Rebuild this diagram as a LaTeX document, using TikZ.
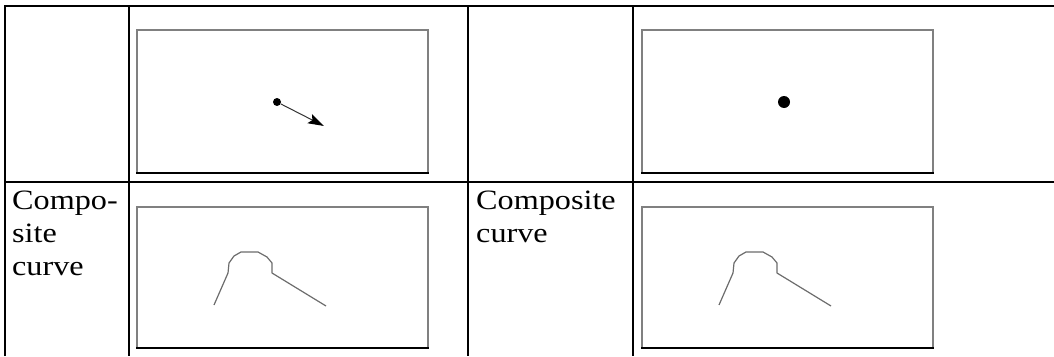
\documentclass[tikz,border=0pt]{standalone}
\usepackage{fontspec}
\setmainfont{Liberation Serif}
\usetikzlibrary{arrows.meta}

\tikzset{
  rule/.style={line width=2pt, black},
  frame/.style={draw=gray, line width=1.6pt},
  framebase/.style={draw=black, line width=1.8pt},
  curveline/.style={draw=gray!85!black, line width=1.2pt, line join=round},
  lbl/.style={anchor=base west, inner sep=0pt, font=\fontsize{28}{33}\selectfont},
  dot/.style={circle, fill=black, inner sep=0pt}
}
\newcommand{\wide}[1]{\scalebox{1.15}[1]{#1}}

\begin{document}
\begin{tikzpicture}[x=1pt, y=-1pt]
\useasboundingbox (0,0) rectangle (1054,356);
% lignes du tableau
\draw[rule] (5,356) -- (5,6) -- (1054,6);
\draw[rule] (5,182) -- (1054,182);
\foreach \x in {129,468,633}
  \draw[rule] (\x,6) -- (\x,356);

% cadres gris (bas en noir)
\foreach \l/\r in {137/428, 642/933} {
  \draw[frame] (\l,173) -- (\l,30) -- (\r,30) -- (\r,173);
  \draw[framebase] (\l-1,173) -- (\r+1,173);
  \draw[frame] (\l,348) -- (\l,207) -- (\r,207) -- (\r,348);
  \draw[framebase] (\l-1,348) -- (\r+1,348);
}

% point et vecteur
\node[dot, minimum size=8pt] (start) at (277,102) {};
\coordinate (tip) at (324,126);
\draw[gray!40!black, line width=1pt, -{Stealth[length=16pt,width=10pt,inset=3pt,color=black]}] (start) -- (tip);
\node[dot, minimum size=12pt] (point) at (784,102) {};

% courbes composites
\foreach \l in {137, 642} {
  \begin{scope}[shift={(\l,206)}]
    \draw[curveline] (77,99) -- (91,67) -- (92,57) -- (97,50) -- (104,46) -- (121,46)
      -- (130,51) -- (135,57) -- (135,67) -- (189,100);
  \end{scope}
}

% textes
\node[lbl] (c1a) at (12,209) {\wide{Compo-}};
\node[lbl] (c1b) at (12,242) {\wide{site}};
\node[lbl] (c1c) at (12,275) {\wide{curve}};
\node[lbl] (c2a) at (476,209) {\wide{Composite}};
\node[lbl] (c2b) at (476,242) {\wide{curve}};
\end{tikzpicture}
\end{document}
